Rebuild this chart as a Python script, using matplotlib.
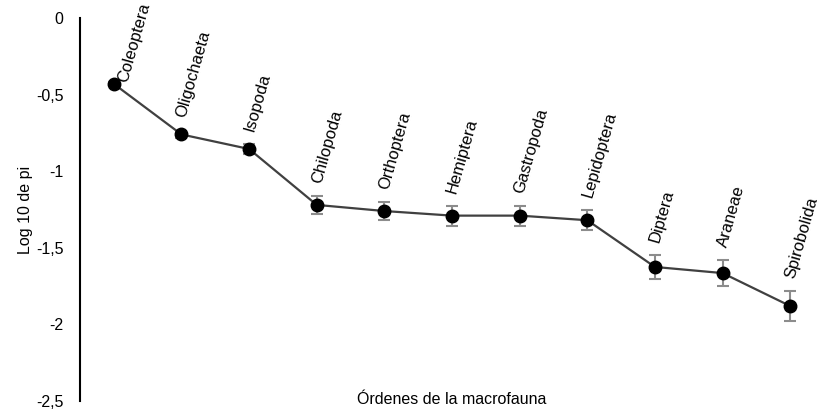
import matplotlib.pyplot as plt
from matplotlib.ticker import FuncFormatter

plt.rcParams['font.family'] = ['Liberation Sans', 'DejaVu Sans']

orders = ['Coleoptera', 'Oligochaeta', 'Isopoda', 'Chilopoda', 'Orthoptera',
          'Hemiptera', 'Gastropoda', 'Lepidoptera', 'Diptera', 'Araneae',
          'Spirobolida']
log_pi = [-0.43, -0.76, -0.855, -1.22, -1.26, -1.29, -1.29, -1.32,
          -1.625, -1.665, -1.88]
err = [0.01, 0.025, 0.03, 0.06, 0.06, 0.065, 0.065, 0.065, 0.08, 0.085, 0.095]
y_ticks = [0, -0.5, -1, -1.5, -2, -2.5]


def comma_formatter(x, pos):
    """Spanish style decimal comma"""
    s = f'{x:g}'
    return s.replace('.', ',')


fig = plt.figure(figsize=(8.33, 4.2), dpi=100)
ax = fig.add_axes([80 / 833, 1 - 401 / 420, 744 / 833, 383 / 420])

xs = list(range(len(orders)))
ax.errorbar(xs, log_pi, yerr=err, fmt='none', ecolor='#8c8c8c',
            elinewidth=1.5, capsize=4, capthick=1.5, zorder=2)
ax.plot(xs, log_pi, color='#404040', lw=1.6, zorder=3)
ax.plot(xs, log_pi, 'o', color='black', ms=9, zorder=4)

for i, name in enumerate(orders):
    if i == 0:
        xy, off = (xs[i], log_pi[i]), (12, 0)
    else:
        xy, off = (xs[i], log_pi[i] + err[i]), (5, 8)
    ax.annotate(name, xy, xytext=off, textcoords='offset points',
                rotation=74, rotation_mode='anchor', ha='left',
                va='bottom', fontsize=12)

ax.set_xlim(-0.5, len(orders) - 0.5)
ax.set_ylim(-2.5, 0)
ax.set_yticks(y_ticks)
ax.yaxis.set_major_formatter(FuncFormatter(comma_formatter))
ax.tick_params(axis='y', length=0, pad=12, labelsize=11.5)
ax.set_xticks([])
for side in ['top', 'right', 'bottom']:
    ax.spines[side].set_visible(False)
ax.spines['left'].set_linewidth(1.5)
ax.set_ylabel('Log 10 de pi', fontsize=11.5, labelpad=2)
fig.text(452 / 833, 1 - 400 / 420, 'Órdenes de la macrofauna',
         ha='center', va='center', fontsize=11.5)

fig.savefig('out.png', dpi=100)
